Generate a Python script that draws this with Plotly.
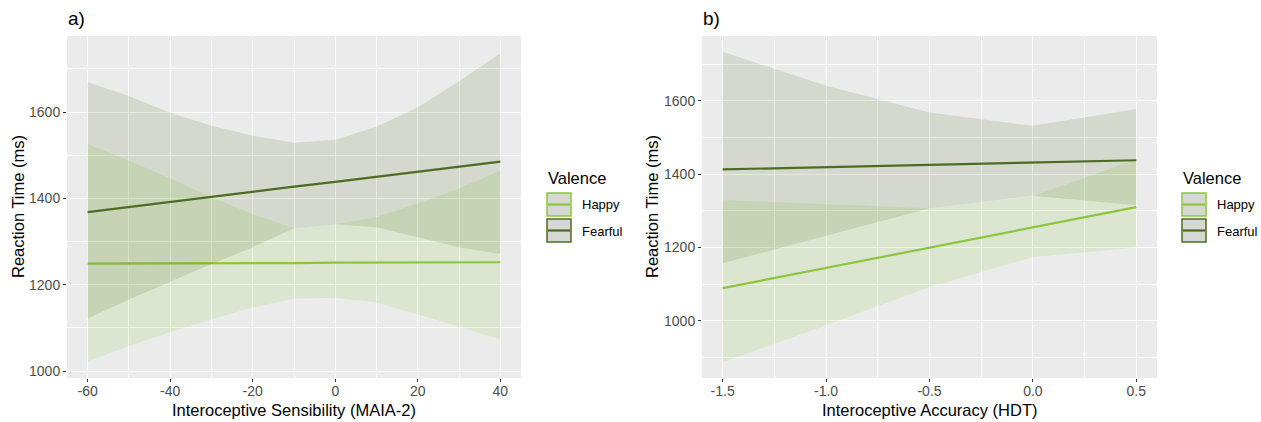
import plotly.graph_objects as go

W, H = 1261, 422

# ---------------- data ----------------
# Panel a: Interoceptive Sensibility (MAIA-2)
a_x = [-60, -50, -40, -30, -20, -10, 0, 10, 20, 30, 40]
a_happy_fit = [1249, 1249, 1249, 1250, 1250, 1250, 1251, 1251, 1251, 1252, 1252]
a_happy_lo = [1023, 1058, 1090, 1120, 1147, 1168, 1170, 1159, 1131, 1103, 1073]
a_happy_hi = [1526, 1487, 1446, 1402, 1363, 1331, 1340, 1356, 1388, 1423, 1464]
a_fear_fit = [1368, 1380, 1391, 1403, 1415, 1427, 1438, 1450, 1462, 1473, 1485]
a_fear_lo = [1122, 1166, 1207, 1248, 1287, 1331, 1340, 1333, 1310, 1287, 1271]
a_fear_hi = [1669, 1637, 1598, 1568, 1545, 1529, 1536, 1566, 1611, 1671, 1736]

# Panel b: Interoceptive Accuracy (HDT)
b_x = [-1.5, -1.0, -0.5, 0.0, 0.5]
b_happy_fit = [1089, 1144, 1199, 1254, 1310]
b_happy_lo = [887, 988, 1092, 1174, 1200]
b_happy_hi = [1329, 1318, 1307, 1340, 1440]
b_fear_fit = [1413, 1419, 1425, 1432, 1438]
b_fear_lo = [1157, 1232, 1307, 1341, 1315]
b_fear_hi = [1734, 1641, 1568, 1532, 1578]

a_xticks = [-60, -40, -20, 0, 20, 40]
a_xticklabels = ["-60", "-40", "-20", "0", "20", "40"]
b_xticks = [-1.5, -1.0, -0.5, 0.0, 0.5]
b_xticklabels = ["-1.5", "-1.0", "-0.5", "0.0", "0.5"]
y_ticks = [1000, 1200, 1400, 1600]
y_ticklabels = ["1000", "1200", "1400", "1600"]

valences = ["Happy", "Fearful"]

# ---------------- style ----------------
HAPPY = "#8cc63f"
FEAR = "#4e6b22"
HAPPY_FILL = "rgba(140,198,63,0.16)"
FEAR_FILL = "rgba(78,107,34,0.15)"
FONT = "Liberation Sans, Arial, sans-serif"

fig = go.Figure()

def add_panel(xs, fit, lo, hi, color, fill, xa, ya):
    fig.add_trace(go.Scatter(
        x=list(xs) + list(xs)[::-1], y=list(hi) + list(lo)[::-1],
        fill="toself", fillcolor=fill, line=dict(width=0), mode="lines",
        hoverinfo="skip", showlegend=False, xaxis=xa, yaxis=ya))
    fig.add_trace(go.Scatter(
        x=xs, y=fit, mode="lines", line=dict(color=color, width=2.2),
        showlegend=False, xaxis=xa, yaxis=ya))

add_panel(a_x, a_happy_fit, a_happy_lo, a_happy_hi, HAPPY, HAPPY_FILL, "x", "y")
add_panel(a_x, a_fear_fit, a_fear_lo, a_fear_hi, FEAR, FEAR_FILL, "x", "y")
add_panel(b_x, b_happy_fit, b_happy_lo, b_happy_hi, HAPPY, HAPPY_FILL, "x2", "y2")
add_panel(b_x, b_fear_fit, b_fear_lo, b_fear_hi, FEAR, FEAR_FILL, "x2", "y2")

def px(x):
    return x / W

def py(y):
    return 1 - y / H

ydom = [py(378), py(36)]
common = dict(showline=False, zeroline=False, ticks="outside", ticklen=3,
              tickcolor="#333333", tickwidth=1,
              tickfont=dict(family=FONT, size=14, color="#4d4d4d"),
              showgrid=True, gridcolor="white", gridwidth=1.2, automargin=False)

fig.update_layout(
    width=W, height=H, margin=dict(l=0, r=0, t=0, b=0),
    paper_bgcolor="white", plot_bgcolor="#ebebeb",
    xaxis=dict(domain=[px(67), px(521)], range=[-65, 45], anchor="y",
               tickvals=a_xticks, ticktext=a_xticklabels, ticklabelstandoff=-3,
               minor=dict(dtick=10, tick0=0, showgrid=True, gridcolor="white", gridwidth=0.6, ticks=""),
               **common),
    yaxis=dict(domain=ydom, range=[984, 1776], anchor="x",
               tickvals=y_ticks, ticktext=y_ticklabels,
               minor=dict(dtick=100, tick0=1000, showgrid=True, gridcolor="white", gridwidth=0.6, ticks=""),
               **common),
    xaxis2=dict(domain=[px(702), px(1157)], range=[-1.6, 0.6], anchor="y2",
                tickvals=b_xticks, ticktext=b_xticklabels, ticklabelstandoff=-3,
                minor=dict(dtick=0.25, tick0=0, showgrid=True, gridcolor="white", gridwidth=0.6, ticks=""),
                **common),
    yaxis2=dict(domain=ydom, range=[844, 1777], anchor="x2",
                tickvals=y_ticks, ticktext=y_ticklabels,
                minor=dict(dtick=100, tick0=1000, showgrid=True, gridcolor="white", gridwidth=0.6, ticks=""),
                **common),
)

ann = []
def text(x, y, s, size, color="black", xanchor="center", angle=0):
    ann.append(dict(x=px(x), y=py(y), xref="paper", yref="paper", text=s,
                    showarrow=False, xanchor=xanchor, yanchor="middle", textangle=angle,
                    font=dict(family=FONT, size=size, color=color)))

# panel tags
text(66, 18, "a)", 19, xanchor="left")
text(701, 18, "b)", 19, xanchor="left")
# axis titles
text(294, 410, "Interoceptive Sensibility (MAIA-2)", 16.5)
text(929, 410, "Interoceptive Accuracy (HDT)", 16.5)
text(18, 207, "Reaction Time (ms)", 16.5, angle=-90)
text(652, 207, "Reaction Time (ms)", 16.5, angle=-90)

# legends
shapes = []
for lx in (547, 1182):
    text(lx - 1, 178, "Valence", 16.5, xanchor="left")
    for i, (name, col) in enumerate(zip(valences, [HAPPY, FEAR])):
        y0 = 193 + i * 26
        shapes.append(dict(type="rect", xref="paper", yref="paper",
                           x0=px(lx), x1=px(lx + 24), y0=py(y0), y1=py(y0 + 23),
                           fillcolor="#d7d8d3", line=dict(color=col, width=1.5)))
        shapes.append(dict(type="line", xref="paper", yref="paper",
                           x0=px(lx + 1), x1=px(lx + 23), y0=py(y0 + 11.5), y1=py(y0 + 11.5),
                           line=dict(color=col, width=2.2)))
        text(lx + 33, y0 + 12, name, 13, xanchor="left")

fig.update_layout(annotations=ann, shapes=shapes)
fig.write_html("out.html", config={"displayModeBar": False},
               post_script="document.body.style.margin='0';document.body.style.overflow='hidden';")
